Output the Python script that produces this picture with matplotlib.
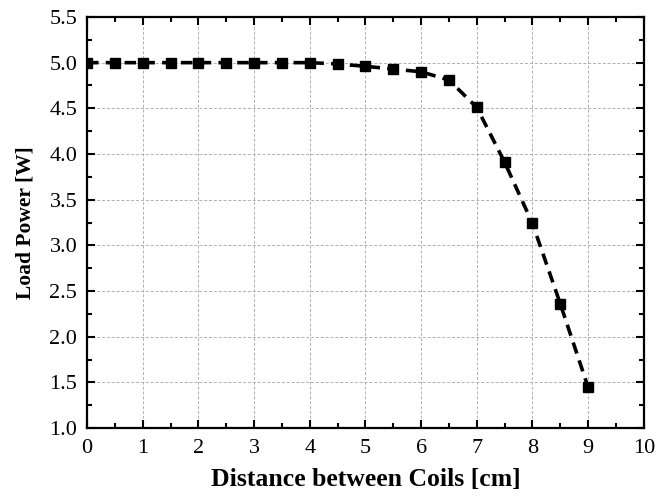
import matplotlib
matplotlib.use("Agg")
import matplotlib.pyplot as plt
from matplotlib.ticker import MultipleLocator

distance = [0, 0.5, 1, 1.5, 2, 2.5, 3, 3.5, 4, 4.5, 5, 5.5, 6, 6.5, 7, 7.5, 8, 8.5, 9]
power = [5.0, 5.0, 5.0, 5.0, 5.0, 5.0, 5.0, 5.0, 5.0, 4.986, 4.96, 4.93, 4.90, 4.81, 4.51, 3.91, 3.24, 2.36, 1.445]
xticks = [0, 1, 2, 3, 4, 5, 6, 7, 8, 9, 10]
yticks = [1.0, 1.5, 2.0, 2.5, 3.0, 3.5, 4.0, 4.5, 5.0, 5.5]

plt.rcParams['font.family'] = ['Liberation Serif', 'DejaVu Serif']

fig = plt.figure(figsize=(6.59, 4.99), dpi=100)
ax = fig.add_axes([0.132, 0.142, 0.845, 0.824])

ax.plot(distance, power, color='black', linestyle=(0, (3.2, 2.0)), linewidth=2.6,
        marker='s', markersize=7.5, markerfacecolor='black', markeredgecolor='black', zorder=3)

ax.set_xlim(0, 10)
ax.set_ylim(1.0, 5.5)
ax.set_xticks(xticks)
ax.set_xticklabels([str(t) for t in xticks])
ax.set_yticks(yticks)
ax.set_yticklabels([f"{t:.1f}" for t in yticks])
ax.xaxis.set_minor_locator(MultipleLocator(0.5))
ax.yaxis.set_minor_locator(MultipleLocator(0.25))

ax.grid(True, which='major', color='#b0b0b0', linestyle=(0, (3, 2)), linewidth=0.7)
ax.tick_params(which='both', direction='in', top=True, right=True, labelsize=16, width=1.5)
ax.tick_params(which='major', length=6)
ax.tick_params(which='minor', length=3.5)
ax.tick_params(axis='x', pad=8)
ax.tick_params(axis='y', pad=7)
for s in ax.spines.values():
    s.set_linewidth(1.6)

ax.set_xlabel('Distance between Coils [cm]', fontsize=18.5, fontweight='bold', labelpad=7)
ax.set_ylabel('Load Power [W]', fontsize=15.5, fontweight='bold', labelpad=10)

fig.savefig('out.png', dpi=100)
